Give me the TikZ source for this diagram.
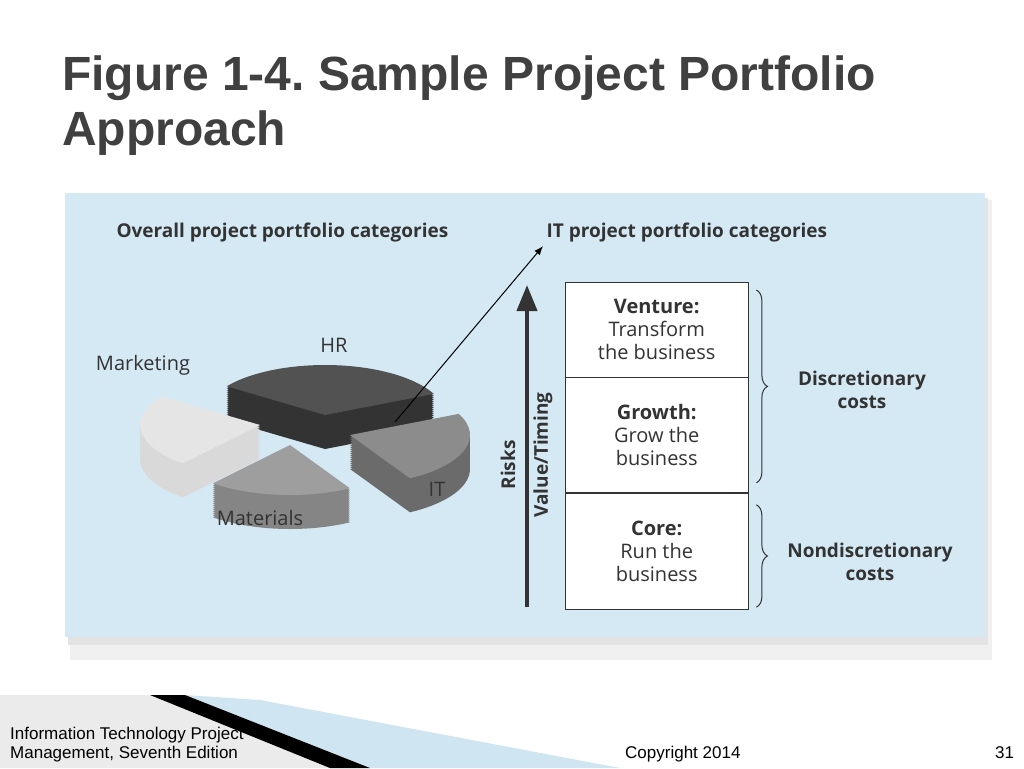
\documentclass[tikz,border=0pt]{standalone}
\usepackage{fontspec}
\setmainfont{Liberation Sans}
\newfontfamily\figfont{Open Sans}
\usetikzlibrary{calc,positioning,arrows.meta,decorations.pathreplacing}
\definecolor{titlegray}{HTML}{404040}
\definecolor{panelblue}{HTML}{D5E9F5}
\definecolor{figtext}{HTML}{333333}
\definecolor{stripeblue}{HTML}{CFE6F2}
% one exploded 3D pie wedge: start, end, dx, dy, top colour, side colour
\newcommand{\pieslice}[6]{%
  \foreach \h in {34,32,...,2}
    \fill[#6] ($(315,425)+(#3,#4)+(0,\h)$) -- ++(#1:120 and 50) arc[start angle=#1, end angle=#2, x radius=120, y radius=50] -- cycle;
  \fill[#5] ($(315,425)+(#3,#4)$) -- ++(#1:120 and 50) arc[start angle=#1, end angle=#2, x radius=120, y radius=50] -- cycle;}
\begin{document}
\frenchspacing
\begin{tikzpicture}[x=1pt, y=-1pt,
    fig/.style={font=\figfont\fontsize{20}{23}\selectfont, text=figtext},
    figbold/.style={fig, font=\figfont\bfseries\fontsize{19}{23}\selectfont},
    level/.style={draw=figtext, fill=white, minimum width=183pt, inner sep=0pt, align=center, fig},
    foot/.style={font=\fontsize{17}{20}\selectfont, anchor=base west, inner sep=0pt}]
  \useasboundingbox (0,0) rectangle (1024,768);
  \fill[white] (0,0) rectangle (1024,768);

  % title
  \node[anchor=base west, inner sep=0pt, text=titlegray, font=\bfseries\fontsize{48}{54}\selectfont] (title1) at (62,90) {Figure 1-4. Sample Project Portfolio};
  \node[anchor=base west, inner sep=0pt, text=titlegray, font=\bfseries\fontsize{48}{54}\selectfont] (title2) at (62,145) {Approach};

  % panel with shadow
  \fill[gray!12] (70,200) rectangle (992,660);
  \fill[gray!22] (68,198) rectangle (988,645);
  \fill[panelblue] (65,193) rectangle (985,637);

  \node[figbold, anchor=west] (overall) at (113,233) {Overall project portfolio categories};
  \node[figbold, anchor=west] (itcat) at (543,233) {IT project portfolio categories};

  % pie
  \pieslice{215}{335}{10}{-10}{black!68}{black!80}
  \pieslice{130}{215}{-55}{0}{black!10}{black!15}
  \pieslice{60}{130}{-25}{20}{black!38}{black!48}
  \pieslice{-25}{60}{35}{10}{black!45}{black!58}
  \node[fig] (hr) at (334,345) {HR};
  \node[fig] (mkt) at (143,365) {Marketing};
  \node[fig] (mat) at (260,518) {Materials};
  \node[fig] (it) at (437,489) {IT};
  \coordinate (itslice) at (395,422);
  \draw[-{Latex[length=9pt,width=7pt]}, line width=1pt] (itslice) -- (itcat.south west);

  % levels
  \node[level, minimum height=95pt, anchor=north west] (venture) at (565,282) {\textbf{Venture:}\\Transform\\the business};
  \node[level, minimum height=115pt, anchor=north] (growth) at (venture.south) {\textbf{Growth:}\\Grow the\\business};
  \node[level, minimum height=116pt, anchor=north] (core) at (growth.south) {\textbf{Core:}\\Run the\\business};

  % value axis
  \coordinate (axbot) at (527,607);
  \coordinate (axtop) at (527,285);
  \draw[-{Triangle[length=26pt,width=20pt]}, line width=4pt, figtext] (axbot) -- (axtop);
  \node[figbold, rotate=90] (risks) at (508,465) {Risks};
  \node[figbold, rotate=90] (value) at (543,455) {Value/Timing};

  % braces
  \draw[decorate, decoration={brace, amplitude=11pt}, line width=1pt, figtext] ($(venture.north east)+(8,8)$) -- ($(growth.south east)+(8,-10)$);
  \draw[decorate, decoration={brace, amplitude=11pt}, line width=1pt, figtext] ($(core.north east)+(8,12)$) -- ($(core.south east)+(8,-2)$);
  \node[figbold, align=center] (disc) at (862,390) {Discretionary\\costs};
  \node[figbold, align=center] (nondisc) at (870,562) {Nondiscretionary\\costs};

  % footer
  \fill[black!8] (0,695) -- (150,695) -- (330,768) -- (0,768) -- cycle;
  \fill[stripeblue] (185,695) -- (260,700) -- (620,768) -- (370,768) -- cycle;
  \fill[black] (150,695) -- (185,695) -- (370,768) -- (330,768) -- cycle;
  \node[foot] (foot1) at (10,739) {Information Technology Project};
  \node[foot] (foot2) at (10,758) {Management, Seventh Edition};
  \node[foot] (copy) at (625,758) {Copyright 2014};
  \node[foot] (page) at (995,758) {31};
\end{tikzpicture}
\end{document}
